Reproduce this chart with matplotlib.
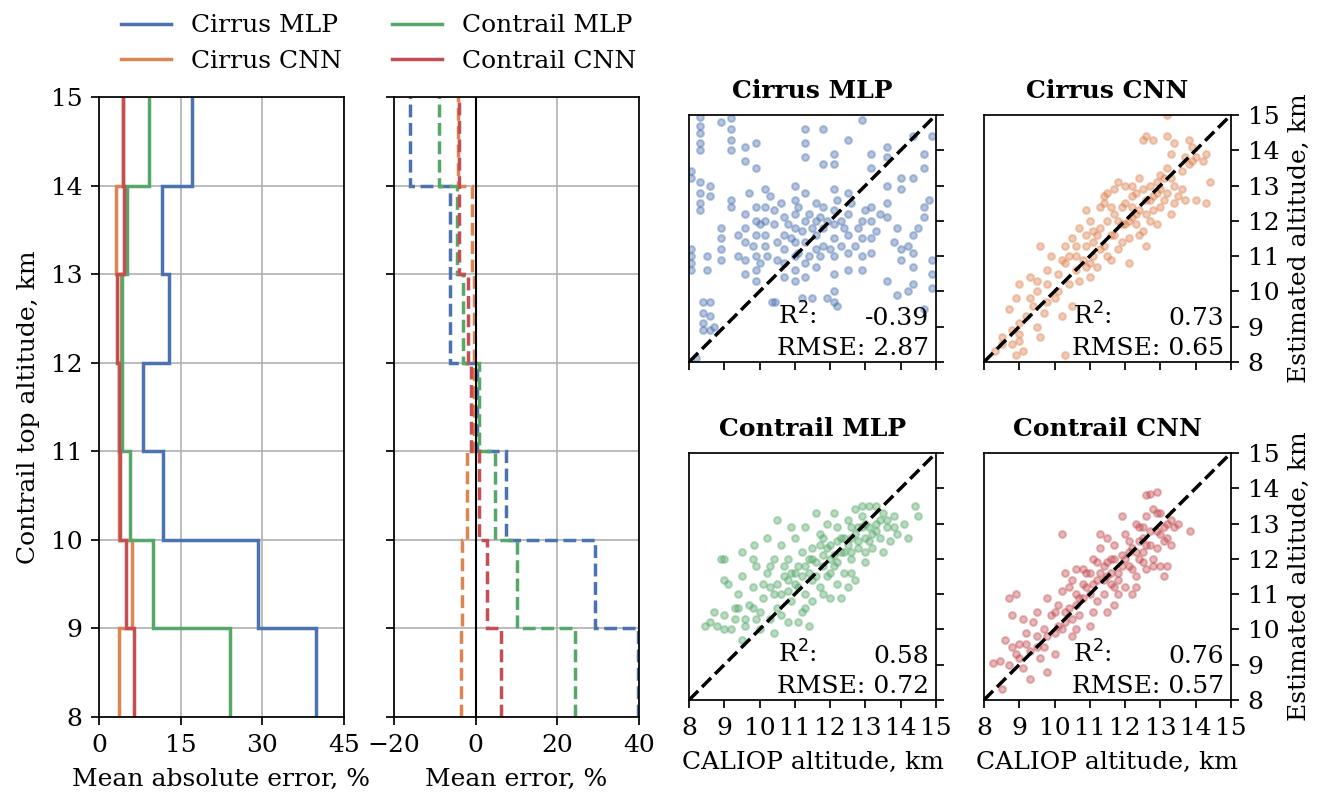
import numpy as np
import matplotlib
matplotlib.use("Agg")
import matplotlib.pyplot as plt

plt.rcParams["font.family"] = "DejaVu Serif"
plt.rcParams["font.size"] = 18
plt.rcParams["axes.linewidth"] = 1.25

BLUE, ORANGE, GREEN, RED = "#4C72B0", "#DD8452", "#55A868", "#C44E52"

alt_edges = [8, 9, 10, 11, 12, 13, 14, 15]
names = ["Cirrus MLP", "Cirrus CNN", "Contrail MLP", "Contrail CNN"]
colors = [BLUE, ORANGE, GREEN, RED]

# mean absolute error per 1 km bin (8-9 ... 14-15), %
mae_cirrus_mlp = [39.8, 29.2, 11.7, 8.0, 12.9, 11.6, 17.0]
mae_cirrus_cnn = [3.7, 6.1, 3.6, 3.6, 4.0, 3.1, 4.5]
mae_contrail_mlp = [24.1, 10.0, 5.7, 4.2, 4.2, 5.1, 9.2]
mae_contrail_cnn = [6.4, 5.0, 3.8, 3.6, 3.4, 4.6, 4.5]

# mean error per bin, %
me_cirrus_mlp = [39.7, 29.2, 7.3, 0.2, -6.4, -6.4, -16.1]
me_cirrus_cnn = [-3.6, -3.3, -2.2, -0.3, -0.4, -0.8, -4.4]
me_contrail_mlp = [24.2, 10.0, 4.6, 0.7, -3.0, -4.7, -9.1]
me_contrail_cnn = [6.3, 2.7, 0.8, -1.1, -2.0, -4.2, -4.1]

# (CALIOP altitude, estimated altitude) in km
cirrus_mlp_pts = [
    (8.05, 13.4), (8.05, 13.2), (8.05, 11.2), (8.05, 11.0), (8.05, 10.8), (8.05, 10.6),
    (8.3, 14.95), (8.3, 14.7), (8.3, 14.5), (8.3, 14.2), (8.3, 14.0), (8.3, 13.1),
    (8.3, 12.8), (8.3, 12.5), (8.3, 12.3), (8.4, 9.7), (8.4, 9.4), (8.4, 9.1), (8.4, 8.9),
    (8.6, 13.0), (8.6, 12.7), (8.6, 9.7), (8.6, 9.3), (8.6, 8.9), (8.5, 11.0), (8.5, 10.6),
    (8.9, 14.8), (8.9, 11.8), (8.9, 11.5), (8.9, 11.2), (8.9, 10.9), (8.2, 8.1),
    (9.2, 14.9), (9.2, 14.6), (9.2, 14.3), (9.2, 14.0), (9.2, 12.6), (9.2, 12.4),
    (9.6, 14.1), (9.6, 13.7), (9.6, 12.2), (9.6, 11.8), (9.6, 11.4), (9.6, 10.9), (9.6, 10.5),
    (9.9, 14.2), (9.9, 13.5), (9.9, 12.4), (9.9, 12.0), (9.9, 11.6), (9.9, 11.0),
    (9.9, 10.6), (9.9, 10.3), (10.15, 12.9), (10.15, 12.4), (10.15, 12.0), (10.15, 11.6),
    (10.15, 11.3), (10.35, 9.7), (10.45, 9.7), (10.4, 12.3), (10.4, 11.9),
    (10.7, 12.1), (10.7, 11.6), (10.7, 11.2), (10.7, 10.8), (10.7, 10.4),
    (11.0, 13.0), (11.0, 12.6), (11.0, 12.2), (11.0, 11.8), (11.0, 11.4), (11.0, 11.0),
    (11.0, 10.6), (11.0, 10.3), (11.3, 14.6), (11.3, 14.2), (11.3, 13.8), (11.3, 12.8),
    (11.3, 12.0), (11.3, 11.4), (11.3, 10.8), (11.3, 10.4), (11.6, 12.5), (11.6, 12.0),
    (11.6, 11.6), (11.6, 11.2), (11.6, 10.7), (11.8, 14.6), (11.8, 13.6), (11.8, 12.4),
    (11.8, 11.8), (11.8, 11.3), (12.1, 13.9), (12.1, 13.6), (12.1, 12.9), (12.1, 12.3),
    (12.1, 11.9), (12.1, 11.5), (12.1, 11.0), (12.1, 10.5), (12.1, 10.0), (12.1, 9.7),
    (12.5, 14.3), (12.5, 12.8), (12.5, 12.2), (12.5, 11.6), (12.5, 11.1), (12.5, 10.6),
    (12.9, 14.85), (12.9, 12.0), (12.9, 11.5), (12.9, 11.0), (12.9, 10.6),
    (13.15, 13.9), (13.15, 13.5), (13.15, 12.4), (13.15, 12.0), (13.15, 11.5), (13.15, 11.1),
    (13.6, 14.1), (13.6, 13.8), (13.6, 13.0), (13.6, 12.5), (13.6, 12.1), (13.6, 10.3),
    (14.0, 13.2), (14.0, 12.9), (14.0, 11.2), (14.0, 10.9),
    (14.35, 14.4), (14.35, 13.2), (14.35, 11.6), (14.35, 11.1), (14.35, 10.7), (14.35, 10.2),
    (14.65, 13.9), (14.65, 13.5), (14.65, 12.4), (14.65, 12.1), (14.65, 9.5),
    (14.9, 14.4), (14.9, 10.9), (14.9, 10.5), (14.9, 10.1),
    (9.4, 11.6), (9.4, 11.0), (9.7, 12.8), (9.8, 11.3), (10.0, 11.9), (10.0, 10.8),
    (10.2, 11.0), (10.3, 12.7), (10.5, 11.4), (10.5, 10.9), (10.6, 12.5), (10.8, 11.9),
    (10.9, 11.5), (11.1, 12.4), (11.1, 11.1), (11.2, 11.7), (11.4, 12.2), (11.4, 11.0),
    (11.5, 11.8), (11.7, 12.1), (11.7, 11.0), (11.9, 12.0), (12.0, 11.2), (12.2, 12.6),
    (12.3, 11.3), (12.3, 12.0), (12.4, 11.8), (12.6, 12.5), (12.7, 11.3), (12.8, 11.8),
    (13.0, 12.3), (13.3, 11.7), (13.4, 12.2), (13.8, 11.4), (13.9, 11.8), (14.2, 11.3),
    (14.5, 11.8), (14.8, 12.6), (11.2, 9.8), (11.5, 9.8), (11.9, 9.8), (12.2, 9.6),
    (13.9, 9.9), (8.7, 9.0), (14.2, 10.0),
]
cirrus_cnn_pts = [
    (8.3, 8.3), (8.5, 8.7), (8.5, 8.5), (8.8, 8.9), (9.0, 8.6), (9.1, 8.3), (9.0, 9.1),
    (8.7, 9.5), (8.9, 9.8), (9.2, 9.3), (9.4, 9.6), (9.5, 9.0), (9.6, 8.7), (9.7, 9.4),
    (9.5, 10.0), (9.3, 10.4), (9.0, 10.2), (9.8, 10.2), (10.0, 9.8), (10.1, 10.5),
    (10.2, 9.3), (9.9, 11.0), (9.6, 11.3), (10.2, 10.9), (10.4, 10.2), (10.5, 11.5),
    (10.3, 11.3), (10.6, 10.6), (10.5, 9.6), (10.8, 10.9), (10.9, 11.3), (10.7, 11.8),
    (11.0, 10.4), (11.1, 11.0), (11.2, 11.6), (11.0, 12.0), (11.3, 12.4), (11.4, 11.3),
    (11.5, 12.0), (11.6, 11.6), (11.4, 12.7), (11.7, 12.2), (11.8, 11.2), (11.9, 11.9),
    (11.6, 10.9), (12.0, 12.5), (12.1, 11.5), (12.2, 12.1), (12.0, 13.0), (12.3, 12.8),
    (12.4, 12.3), (12.1, 10.8), (12.5, 11.7), (12.6, 12.6), (12.4, 13.2), (12.7, 13.0),
    (12.8, 12.3), (12.6, 11.3), (12.9, 12.8), (13.0, 13.3), (12.9, 11.9), (13.1, 12.6),
    (13.2, 13.5), (13.3, 12.2), (13.4, 13.0), (13.5, 12.7), (13.6, 13.4), (13.3, 13.9),
    (13.7, 13.8), (13.9, 14.1), (14.0, 13.8), (14.2, 13.7), (14.3, 13.9), (14.0, 12.6),
    (14.3, 12.5), (13.7, 12.6), (14.4, 13.1), (12.5, 14.3), (12.6, 14.4), (12.8, 14.3),
    (13.2, 14.4), (13.4, 14.2), (13.8, 14.3), (13.2, 15.0), (11.4, 12.5), (11.7, 12.9),
    (11.9, 12.4), (12.2, 12.7), (10.9, 12.3), (10.3, 10.8), (9.8, 9.7), (11.2, 10.7),
    (12.3, 11.9), (11.8, 13.1), (13.0, 12.4), (12.7, 12.0), (11.1, 11.7), (10.6, 11.0),
    (8.9, 8.2), (10.3, 8.2),
    (10.6, 11.3), (10.9, 10.7), (11.1, 11.4), (11.3, 11.8), (11.5, 11.0), (11.6, 12.4),
    (11.8, 12.0), (11.9, 11.4), (12.0, 11.9), (12.2, 12.4), (12.3, 12.2), (12.4, 11.6),
    (12.5, 12.9), (12.6, 12.2), (12.8, 12.7), (12.9, 13.1), (13.0, 12.9), (13.1, 13.2),
    (13.2, 12.8), (13.4, 12.5), (13.6, 12.9), (13.8, 13.6), (12.2, 13.0), (11.7, 11.6),
    (11.3, 11.2), (10.9, 11.6), (10.1, 10.0), (9.8, 10.6), (9.3, 9.8), (9.0, 8.8),
    (8.8, 8.5), (10.4, 11.0), (11.0, 10.8), (12.7, 12.6), (13.3, 13.2), (12.1, 12.0),
    (13.9, 13.7), (9.5, 10.3), (10.7, 10.3), (11.5, 12.8),
]
contrail_mlp_pts = [
    (8.45, 10.1), (8.6, 10.2), (8.8, 10.1), (8.9, 12.0), (9.0, 12.0), (9.0, 10.4),
    (9.2, 10.0), (9.3, 10.3), (9.4, 10.6), (9.1, 11.3), (9.4, 11.0), (9.5, 11.5),
    (9.6, 10.1), (9.7, 10.7), (9.8, 11.2), (9.9, 11.8), (9.85, 12.4), (10.0, 10.5),
    (10.1, 10.9), (10.2, 11.6), (10.3, 10.3), (10.3, 11.2), (10.4, 12.0), (10.5, 10.6),
    (10.6, 11.0), (10.6, 12.4), (10.7, 11.5), (10.8, 10.2), (10.8, 12.0), (10.9, 10.8),
    (11.0, 11.3), (11.0, 12.6), (11.1, 11.8), (11.2, 10.5), (11.2, 12.2), (11.3, 11.0),
    (11.3, 12.9), (11.4, 11.6), (11.5, 10.8), (11.5, 12.3), (11.6, 11.9), (11.7, 11.2),
    (11.7, 12.7), (11.8, 12.1), (11.9, 11.5), (11.9, 13.0), (12.0, 12.4), (12.0, 10.9),
    (12.1, 11.8), (12.2, 12.9), (12.2, 11.3), (12.3, 12.2), (12.4, 12.6), (12.4, 11.6),
    (12.5, 13.1), (12.6, 12.0), (12.6, 12.6), (12.7, 11.4), (12.8, 12.9), (12.8, 12.3),
    (12.9, 13.2), (13.0, 12.6), (13.0, 11.9), (13.1, 13.5), (13.1, 12.9), (13.2, 12.3),
    (13.3, 13.0), (13.4, 12.6), (13.5, 13.3), (13.6, 12.9), (13.7, 12.5), (13.8, 13.2),
    (13.9, 12.7), (14.1, 13.0), (14.2, 12.6), (14.4, 13.5), (14.5, 13.2), (13.3, 13.5),
    (12.9, 13.5), (10.5, 13.1), (10.2, 12.6), (9.5, 12.2), (9.0, 11.4), (8.7, 10.5),
    (9.6, 10.3), (10.8, 11.1), (11.1, 10.2), (11.8, 11.0), (12.3, 10.9), (12.5, 11.2),
    (11.4, 10.1), (10.0, 10.0), (9.5, 9.7), (10.9, 12.9), (12.1, 13.3), (13.5, 12.2),
    (11.6, 13.3), (12.7, 13.4), (10.4, 9.9), (13.0, 12.2), (11.0, 11.6), (12.0, 12.0),
    (11.5, 11.4), (12.2, 12.5), (11.8, 12.6), (12.6, 12.9), (10.7, 11.8),
    (10.5, 11.3), (10.9, 11.6), (11.1, 11.2), (11.3, 11.8), (11.4, 12.0), (11.6, 11.5),
    (11.8, 11.8), (11.9, 12.3), (12.1, 12.1), (12.2, 11.9), (12.3, 12.6), (12.5, 12.4),
    (12.6, 12.2), (12.7, 12.7), (12.8, 12.5), (12.9, 12.9), (13.0, 13.0), (13.2, 12.7),
    (13.3, 12.8), (13.4, 13.1), (13.6, 13.1), (13.8, 12.9), (12.0, 11.6), (11.5, 12.0),
    (11.2, 11.5), (10.8, 11.4), (10.4, 11.0), (10.1, 11.3), (9.8, 10.6), (9.3, 10.6),
    (9.9, 10.3), (10.6, 10.4), (11.3, 10.6), (12.4, 12.2), (13.1, 12.5), (12.6, 11.6),
    (11.7, 12.4), (9.0, 10.0), (9.8, 12.0), (10.3, 11.8),
]
contrail_cnn_pts = [
    (8.25, 9.05), (8.45, 9.1), (8.5, 8.3), (8.7, 9.0), (8.6, 9.7), (8.8, 10.4), (8.7, 10.9),
    (8.9, 11.0), (8.9, 9.3), (9.0, 9.6), (9.1, 8.9), (9.2, 9.9), (9.3, 8.6), (9.3, 9.4),
    (9.4, 10.2), (9.5, 9.8), (9.5, 10.5), (9.6, 9.2), (9.7, 10.0), (9.8, 8.8), (9.8, 10.9),
    (9.9, 10.4), (10.0, 9.3), (10.0, 9.9), (10.1, 10.7), (10.2, 11.1), (10.3, 10.2),
    (10.4, 10.6), (10.5, 11.4), (10.5, 9.8), (10.6, 11.0), (10.7, 10.4), (10.8, 11.7),
    (10.8, 10.9), (10.9, 11.2), (11.0, 10.1), (11.0, 11.6), (11.1, 12.0), (11.2, 10.8),
    (11.2, 11.4), (11.3, 12.3), (11.4, 11.0), (11.4, 11.8), (11.5, 12.6), (11.6, 11.3),
    (11.6, 12.0), (11.7, 10.7), (11.7, 12.4), (11.8, 11.6), (11.9, 12.1), (12.0, 11.2),
    (12.0, 12.7), (12.1, 11.8), (12.2, 12.3), (12.3, 11.5), (12.3, 13.0), (12.4, 12.0),
    (12.5, 12.6), (12.6, 11.7), (12.6, 13.2), (12.7, 12.4), (12.8, 13.4), (12.8, 12.0),
    (12.9, 12.8), (13.0, 11.8), (13.0, 13.3), (13.1, 12.5), (13.2, 13.0), (13.3, 12.4),
    (13.4, 12.9), (13.5, 13.0), (13.85, 12.8), (12.7, 13.85), (12.9, 13.9), (12.6, 13.8),
    (10.1, 10.1), (10.6, 10.0), (11.3, 12.7), (10.2, 12.7), (11.5, 10.5), (12.2, 11.0),
    (9.1, 10.3), (10.3, 11.6), (11.9, 13.2), (12.4, 12.9), (11.0, 11.0), (11.5, 11.5),
    (12.1, 12.2), (10.7, 10.9), (9.7, 9.5), (12.8, 11.8), (13.1, 11.5), (13.2, 11.8),
    (10.5, 10.3), (11.8, 11.0), (12.5, 12.2),
    (10.8, 11.3), (11.1, 11.3), (11.3, 11.6), (11.5, 11.9), (11.6, 11.6), (11.7, 12.0),
    (11.8, 11.4), (11.9, 11.8), (12.0, 12.0), (12.1, 12.5), (12.2, 11.7), (12.3, 12.2),
    (12.4, 12.5), (12.5, 11.9), (12.6, 12.4), (12.7, 12.8), (12.9, 12.3), (13.0, 12.7),
    (13.2, 12.6), (13.3, 13.1), (12.5, 12.9), (11.4, 11.4), (11.2, 11.9), (10.9, 11.6),
    (10.6, 10.7), (10.3, 10.5), (10.0, 10.5), (9.8, 9.8), (9.5, 9.5), (9.2, 9.6),
    (9.0, 9.2), (8.8, 9.5), (10.2, 10.0), (10.4, 11.2), (11.7, 11.2), (12.3, 11.2),
    (13.1, 12.9), (12.9, 13.3), (10.6, 11.7), (11.1, 10.5),
]
r2_vals = [-0.39, 0.73, 0.58, 0.76]
rmse_vals = [2.87, 0.65, 0.72, 0.57]

fig = plt.figure(figsize=(13.25, 8), dpi=100)

ax_mae = fig.add_axes([0.0747, 0.1038, 0.1849, 0.775])
ax_me = fig.add_axes([0.2974, 0.1038, 0.1849, 0.775])

mae = [mae_cirrus_mlp, mae_cirrus_cnn, mae_contrail_mlp, mae_contrail_cnn]
me = [me_cirrus_mlp, me_cirrus_cnn, me_contrail_mlp, me_contrail_cnn]

for vals, c, lab in zip(mae, colors, names):
    ax_mae.stairs(vals, alt_edges, orientation="horizontal", baseline=None,
                  color=c, lw=2.5, label=lab)
ax_me.axvline(0, color="black", lw=1.5)
for vals, c in zip(me, colors):
    ax_me.stairs(vals, alt_edges, orientation="horizontal", baseline=None,
                 color=c, lw=2.5, ls="--")

ax_mae.set_xlim(0, 45)
ax_mae.set_xticks([0, 15, 30, 45])
ax_me.set_xlim(-20, 40)
ax_me.set_xticks([-20, 0, 20, 40])
for ax in (ax_mae, ax_me):
    ax.set_ylim(8, 15)
    ax.set_yticks(alt_edges)
    ax.grid(True, color="#b0b0b0", lw=1.2)
    ax.set_axisbelow(True)
    ax.tick_params(length=6, width=1.25, pad=6)
ax_me.set_yticklabels([])
ax_mae.set_ylabel("Contrail top altitude, km", labelpad=8)
ax_mae.set_xlabel("Mean absolute error, %", labelpad=8)
ax_me.set_xlabel("Mean error, %", labelpad=8)

fig.legend(loc="upper center", bbox_to_anchor=(0.2857, 1.01), ncol=2, frameon=False,
           handlelength=2.0, columnspacing=2.0, labelspacing=0.5)

# scatter panels
pts = [cirrus_mlp_pts, cirrus_cnn_pts, contrail_mlp_pts, contrail_cnn_pts]
pos = [[0.52, 0.5475, 0.1864, 0.3088], [0.7426, 0.5475, 0.1864, 0.3088],
       [0.52, 0.125, 0.1864, 0.3088], [0.7426, 0.125, 0.1864, 0.3088]]
ticks = list(range(8, 16))
for i in range(4):
    ax = fig.add_axes(pos[i])
    xy = np.array(pts[i])
    ax.scatter(xy[:, 0], xy[:, 1], s=24, color=colors[i], alpha=0.4, lw=1.5)
    ax.plot([8, 15], [8, 15], "k--", lw=2.5)
    ax.set_xlim(8, 15)
    ax.set_ylim(8, 15)
    ax.set_xticks(ticks)
    ax.set_yticks(ticks)
    ax.yaxis.tick_right()
    ax.tick_params(length=6, width=1.25, pad=6)
    ax.set_title(names[i], fontweight="bold", fontsize=18, pad=12)
    if i % 2 == 0:
        ax.set_yticklabels([])
    else:
        ax.yaxis.set_label_position("right")
        ax.set_ylabel("Estimated altitude, km", labelpad=6)
    if i < 2:
        ax.set_xticklabels([])
    else:
        ax.set_xlabel("CALIOP altitude, km", labelpad=8)
    ax.text(0.36, 0.13, "R$^2$:", transform=ax.transAxes, ha="left", va="bottom")
    ax.text(0.97, 0.13, f"{r2_vals[i]:.2f}", transform=ax.transAxes, ha="right", va="bottom")
    ax.text(0.97, 0.01, f"RMSE: {rmse_vals[i]:.2f}", transform=ax.transAxes,
            ha="right", va="bottom")

fig.savefig("out.png", dpi=100)
